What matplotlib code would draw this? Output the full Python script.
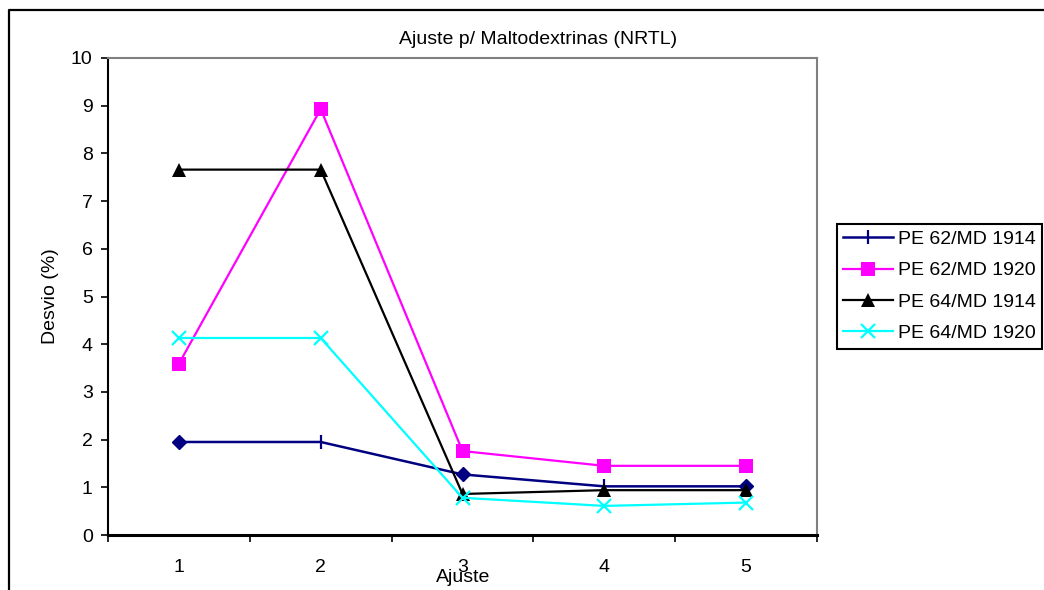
import matplotlib
matplotlib.use("Agg")
import matplotlib.pyplot as plt
from matplotlib.lines import Line2D

plt.rcParams['font.family'] = ['Liberation Sans', 'DejaVu Sans']

categories = [1, 2, 3, 4, 5]
cat_labels = ["1", "2", "3", "4", "5"]
pe62_md1914 = [1.95, 1.95, 1.27, 1.02, 1.02]
pe62_md1920 = [3.59, 8.93, 1.76, 1.45, 1.45]
pe64_md1914 = [7.66, 7.66, 0.86, 0.94, 0.94]
pe64_md1920 = [4.13, 4.13, 0.78, 0.61, 0.68]
series_names = ["PE 62/MD 1914", "PE 62/MD 1920", "PE 64/MD 1914", "PE 64/MD 1920"]

W, H = 1044, 590
fig = plt.figure(figsize=(W / 100, H / 100), dpi=100)
ax = fig.add_axes([108 / W, 1 - 535 / H, (817 - 108) / W, (535 - 58) / H])

FS = 14
navy = '#000080'
mag = '#FF00FF'
cyan = '#00FFFF'

# PE 62/MD 1914: line with '|' markers, diamonds at some points
ax.plot(categories, pe62_md1914, color=navy, lw=1.8, marker='|', markersize=10,
        markeredgewidth=1.6, markevery=[1, 3], zorder=3, clip_on=False)
ax.plot(categories, pe62_md1914, color=navy, lw=0, marker='D', markersize=7.5,
        markevery=[0, 2, 4], zorder=3, clip_on=False)
ax.plot(categories, pe62_md1920, color=mag, lw=1.6, marker='s', markersize=10,
        markeredgewidth=0, zorder=3, clip_on=False)
ax.plot(categories, pe64_md1914, color='black', lw=1.6, marker='^', markersize=9.5,
        markeredgewidth=0, zorder=4, clip_on=False)
ax.plot(categories, pe64_md1920, color=cyan, lw=1.6, marker='x', markersize=10,
        markeredgewidth=1.6, zorder=5, clip_on=False)

ax.set_xlim(0.5, 5.5)
ax.set_ylim(0, 10)
ax.set_yticks(range(0, 11))
ax.tick_params(axis='y', direction='out', length=5, width=1.2, pad=6, labelsize=FS, colors='black')

ax.set_xticks([0.5, 1.5, 2.5, 3.5, 4.5, 5.5])
ax.set_xticklabels([])
ax.tick_params(axis='x', which='major', direction='out', length=5, width=1.2)
ax.set_xticks(categories, minor=True)
ax.set_xticklabels(cat_labels, minor=True)
ax.tick_params(axis='x', which='minor', length=0, pad=17, labelsize=FS)

for s in ['top', 'right']:
    ax.spines[s].set_color('#808080')
    ax.spines[s].set_linewidth(1.5)
ax.spines['left'].set_color('black')
ax.spines['left'].set_linewidth(1.5)
ax.spines['bottom'].set_color('black')
ax.spines['bottom'].set_linewidth(2.2)

ax.set_xlabel("Ajuste", fontsize=FS)
ax.xaxis.set_label_coords((463 - 108) / 709, (535 - 578) / 477)
ax.xaxis.label.set_va('center')
ax.set_ylabel("Desvio (%)", fontsize=FS)
ax.yaxis.set_label_coords((50 - 108) / 709, 0.5)
ax.yaxis.label.set_va('center')

fig.text(538 / W, 1 - 40 / H, "Ajuste p/ Maltodextrinas (NRTL)", fontsize=FS,
         ha='center', va='center')

handles = [
    Line2D([], [], color=navy, lw=1.8, marker='|', markersize=10, markeredgewidth=1.6),
    Line2D([], [], color=mag, lw=1.6, marker='s', markersize=10, markeredgewidth=0),
    Line2D([], [], color='black', lw=1.6, marker='^', markersize=9.5, markeredgewidth=0),
    Line2D([], [], color=cyan, lw=1.6, marker='x', markersize=10, markeredgewidth=1.6),
]
leg = fig.legend(handles, series_names, loc='upper left',
                 bbox_to_anchor=(837 / W, 1 - 224 / H), fontsize=FS,
                 frameon=True, fancybox=False, shadow=False, framealpha=1,
                 edgecolor='black', handlelength=2.55, handletextpad=0.25,
                 labelspacing=0.71, borderpad=0.33, borderaxespad=0)
leg.get_frame().set_linewidth(1.5)

# outer chart frame
fig.add_artist(Line2D([9 / W, 9 / W, 1.05], [-0.05, 1 - 10 / H, 1 - 10 / H],
                      transform=fig.transFigure, color='black', lw=1.6))

fig.savefig("out.png", dpi=100)
